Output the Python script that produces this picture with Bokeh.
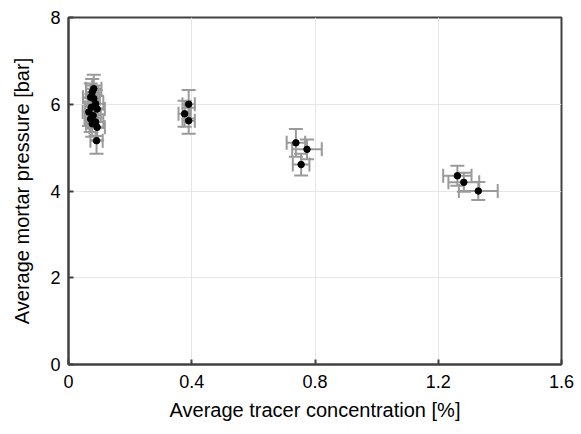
from bokeh.plotting import figure
from bokeh.models import ColumnDataSource, Whisker, TeeHead, FixedTicker, Range1d
from bokeh.embed import file_html
from bokeh.resources import INLINE

# data: average tracer concentration [%] vs average mortar pressure [bar]
conc = [0.082, 0.077, 0.072, 0.082, 0.088, 0.074, 0.093, 0.066, 0.080, 0.072, 0.088, 0.077, 0.093, 0.091,
        0.390, 0.377, 0.390,
        0.738, 0.774, 0.755,
        1.262, 1.283, 1.330]
pressure = [6.36, 6.28, 6.16, 6.13, 6.01, 5.93, 5.89, 5.82, 5.74, 5.66, 5.59, 5.55, 5.47, 5.16,
            6.00, 5.78, 5.62,
            5.11, 4.96, 4.61,
            4.35, 4.20, 4.00]
conc_err = [0.025, 0.02, 0.025, 0.02, 0.025, 0.02, 0.025, 0.02, 0.025, 0.02, 0.025, 0.02, 0.025, 0.02,
            0.02, 0.02, 0.02,
            0.03, 0.048, 0.027,
            0.046, 0.05, 0.063]
pressure_err = [0.32, 0.3, 0.32, 0.3, 0.32, 0.3, 0.3, 0.32, 0.3, 0.3, 0.32, 0.3, 0.3, 0.3,
                0.33, 0.3, 0.3,
                0.32, 0.23, 0.25,
                0.23, 0.22, 0.21]
x_ticks = [0, 0.4, 0.8, 1.2, 1.6]
y_ticks = [0, 2, 4, 6, 8]

src = ColumnDataSource(dict(
    x=conc, y=pressure,
    xl=[a - b for a, b in zip(conc, conc_err)], xu=[a + b for a, b in zip(conc, conc_err)],
    yl=[a - b for a, b in zip(pressure, pressure_err)], yu=[a + b for a, b in zip(pressure, pressure_err)],
))

p = figure(width=581, height=434, output_backend="svg", toolbar_location=None,
           x_range=Range1d(0, 1.6), y_range=Range1d(0, 8),
           min_border_left=68, min_border_right=20, min_border_top=17, min_border_bottom=70)
p.background_fill_color = "white"
p.border_fill_color = "white"
p.outline_line_color = "#404040"
p.outline_line_width = 2

grey = "#9a9a9a"
for dim, base, lo, hi in [("height", "x", "yl", "yu"), ("width", "y", "xl", "xu")]:
    w = Whisker(base=base, lower=lo, upper=hi, source=src, dimension=dim,
                line_color=grey, line_width=2,
                upper_head=TeeHead(size=14, line_color=grey, line_width=2),
                lower_head=TeeHead(size=14, line_color=grey, line_width=2))
    p.add_layout(w)

p.scatter("x", "y", source=src, size=6.5, color="black")

for ax in (p.xaxis[0], p.yaxis[0]):
    ax.axis_line_color = "#404040"
    ax.axis_line_width = 2
    ax.major_tick_line_color = "#404040"
    ax.major_tick_line_width = 2
    ax.major_tick_in = 5
    ax.major_tick_out = 0
    ax.minor_tick_line_color = None
    ax.major_label_text_font = "Liberation Sans"
    ax.major_label_text_font_size = "18px"
    ax.major_label_text_color = "black"
    ax.axis_label_text_font = "Liberation Sans"
    ax.axis_label_text_font_size = "20px"
    ax.axis_label_text_font_style = "normal"
    ax.axis_label_text_color = "black"

p.xaxis.ticker = FixedTicker(ticks=x_ticks)
p.yaxis.ticker = FixedTicker(ticks=y_ticks)
p.xaxis.major_label_overrides = {0: "0", 0.4: "0.4", 0.8: "0.8", 1.2: "1.2", 1.6: "1.6"}
p.xaxis.axis_label = "Average tracer concentration [%]"
p.yaxis.axis_label = "Average mortar pressure [bar]"
p.xaxis.axis_label_standoff = 8
p.yaxis.axis_label_standoff = 14
p.xaxis.major_label_standoff = 10
p.yaxis.major_label_standoff = 8

p.grid.grid_line_color = "#e6e6e6"
p.grid.grid_line_width = 1

open("out.html", "w").write(file_html(p, INLINE))
